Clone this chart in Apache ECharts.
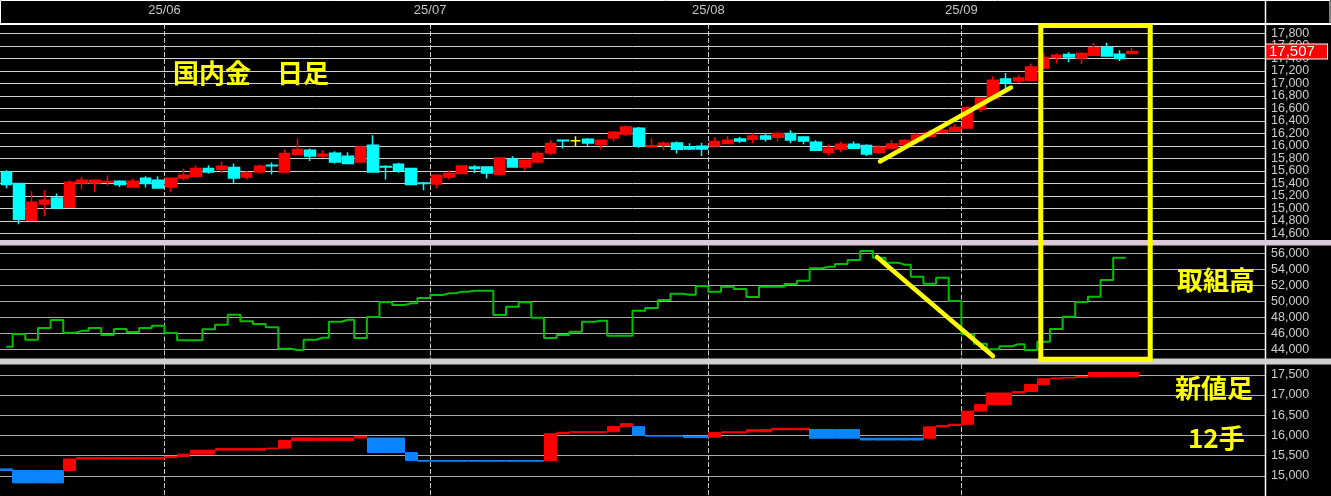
<!DOCTYPE html>
<html><head><meta charset="utf-8">
<script src="https://cdn.jsdelivr.net/npm/echarts@6/dist/echarts.min.js"></script>
<style>html,body{margin:0;padding:0;background:#000;}#c{width:1331px;height:496px;}</style>
</head><body><div id="c"></div>
<script>
// ---- data ----
const dates = [
 '2025/05/14','2025/05/15','2025/05/16','2025/05/19','2025/05/20','2025/05/21','2025/05/22','2025/05/23','2025/05/26','2025/05/27','2025/05/28','2025/05/29','2025/05/30',
 '2025/06/02','2025/06/03','2025/06/04','2025/06/05','2025/06/06','2025/06/09','2025/06/10','2025/06/11','2025/06/12','2025/06/13','2025/06/16','2025/06/17','2025/06/18','2025/06/19','2025/06/20','2025/06/23','2025/06/24','2025/06/25','2025/06/26','2025/06/27','2025/06/30',
 '2025/07/01','2025/07/02','2025/07/03','2025/07/04','2025/07/07','2025/07/08','2025/07/09','2025/07/10','2025/07/11','2025/07/14','2025/07/15','2025/07/16','2025/07/17','2025/07/18','2025/07/22','2025/07/23','2025/07/24','2025/07/25','2025/07/28','2025/07/29','2025/07/30','2025/07/31',
 '2025/08/01','2025/08/04','2025/08/05','2025/08/06','2025/08/07','2025/08/08','2025/08/12','2025/08/13','2025/08/14','2025/08/15','2025/08/18','2025/08/19','2025/08/20','2025/08/21','2025/08/22','2025/08/25','2025/08/26','2025/08/27','2025/08/28','2025/08/29',
 '2025/09/01','2025/09/02','2025/09/03','2025/09/04','2025/09/05','2025/09/08','2025/09/09','2025/09/10','2025/09/11','2025/09/12','2025/09/16','2025/09/17','2025/09/18','2025/09/19'
];
// daily candles (国内金 日足)
const open  = [15580,15395,14808,15069,15165,15016,15405,15405,15420,15432,15341,15480,15448,15341,15485,15512,15635,15624,15651,15501,15581,15690,15581,15864,15928,15837,15880,15832,15741,16008,15670,15704,15635,15405,15389,15501,15555,15661,15661,15544,15784,15661,15741,15885,16090,16080,16104,16024,16125,16189,16280,15985,16008,16045,15981,15992,15997,16035,16110,16104,16157,16136,16195,16141,16056,15896,15949,16024,16003,15896,15965,16024,16077,16152,16216,16232,16285,16584,16755,17069,17037,17048,17245,17411,17459,17405,17448,17571,17464,17475];
const close = [15380,14824,15096,15128,15005,15416,15448,15448,15430,15379,15432,15395,15325,15480,15528,15635,15581,15672,15485,15565,15672,15680,15875,15939,15837,15864,15741,15715,15981,15581,15660,15608,15379,15395,15528,15555,15677,15635,15565,15805,15661,15768,15875,16035,16080,16080,16045,16088,16216,16301,15997,16000,16040,15944,15949,15949,16067,16088,16077,16157,16110,16195,16093,16077,15928,15960,16024,15960,15869,15976,16029,16083,16168,16211,16248,16291,16611,16765,17048,17016,17085,17261,17411,17448,17421,17475,17571,17437,17395,17507];
const low   = [15320,14744,14800,14872,15000,15016,15299,15260,15363,15341,15331,15331,15315,15256,15448,15501,15555,15555,15405,15459,15555,15539,15581,15864,15757,15810,15715,15704,15741,15581,15459,15570,15379,15288,15315,15459,15555,15565,15475,15530,15651,15608,15715,15848,15955,15997,15997,15944,16072,16157,15968,15970,15928,15875,15933,15837,15997,16024,16048,16040,16070,16067,16040,16024,15917,15850,15896,15944,15837,15864,15949,15997,16040,16120,16200,16216,16285,16541,16755,16915,17005,17048,17225,17315,17336,17310,17448,17437,17352,17475];
const high  = [15610,15400,15272,15288,15235,15448,15501,15450,15528,15448,15475,15512,15512,15480,15635,15688,15688,15752,15715,15597,15704,15733,15944,16115,15955,15928,15912,15896,16000,16168,15690,15730,15640,15420,15528,15608,15690,15688,15672,15810,15832,15768,15912,16088,16090,16152,16125,16088,16237,16328,16301,16120,16067,16067,16040,16050,16136,16152,16144,16200,16200,16220,16248,16141,16088,16024,16067,16067,16024,16008,16093,16104,16200,16264,16275,16344,16630,16765,17112,17165,17128,17315,17485,17475,17495,17500,17650,17650,17528,17565];
// open interest (取組高)
const openInterest = [44330,45910,45200,46660,47660,46080,46330,46660,45790,46540,46160,46660,46950,46040,45130,45130,46500,47080,48330,47500,47160,46750,44080,43910,45200,45450,47450,47700,45410,48040,49910,49540,49750,50410,50790,51000,51200,51330,51330,48290,49330,49880,47950,45410,45790,46200,47450,47580,45700,45700,48830,49160,50160,50950,50830,51910,51200,51830,51540,50540,51830,51830,52160,52580,54130,54330,54660,55160,56290,55450,54830,54580,53080,52200,52950,50040,45880,44700,44000,44380,44630,43910,44950,46540,48080,49910,50580,52660,55450,null];
// new price bars (新値足 12手): current bar per day
const nvOpen  = [15170,15130,15130,15130,15130,15130,15416,15416,15416,15416,15416,15416,15416,15448,15480,15535,15535,15635,15635,15635,15635,15672,15685,15875,15875,15875,15875,15875,15935,15935,15935,15935,15575,15379,15379,15379,15379,15379,15379,15379,15379,15379,15379,15379,16040,16075,16075,16075,16090,16216,16216,15997,15997,15997,15980,15980,15955,16067,16067,16088,16088,16140,16140,16140,16145,16145,16145,16145,15930,15930,15930,15930,15930,15930,16211,16245,16275,16600,16760,16760,17048,17085,17258,17400,17420,17435,17455,17455,17455,17455];
const nvClose = [15130,14824,14824,14824,14824,15416,15448,15448,15448,15448,15448,15448,15448,15480,15535,15635,15635,15672,15672,15672,15672,15685,15875,15935,15935,15935,15935,15935,15975,15575,15575,15575,15379,15360,15360,15360,15360,15360,15360,15360,15360,15360,15360,16040,16075,16090,16090,16090,16216,16290,15997,15980,15980,15980,15945,15945,16067,16088,16088,16140,16140,16175,16175,16175,15930,15930,15930,15930,15885,15885,15885,15885,15885,16211,16245,16275,16600,16760,17048,17048,17085,17258,17400,17420,17435,17455,17555,17555,17555,17555];

// ---- helpers ----
const latin = "'Liberation Sans', Arial, sans-serif";
const cjk = "'Noto Sans CJK JP', sans-serif";
const fmt = v => String(Math.round(v)).replace(/\B(?=(\d{3})+(?!\d))/g, ',');
const isMonthStart = (i) => i > 0 && i < dates.length && dates[i].slice(5,7) !== dates[i-1].slice(5,7);
const monthSplit = {show:true, interval:(i)=>isMonthStart(i), lineStyle:{color:'#c8c8c8', type:[5,2], width:1}};

function xAxisFor(gi, showLabel){
  return {
    type:'category', gridIndex:gi, data:dates, min:0, max:99, boundaryGap:true, position:'top',
    axisLine:{show:false}, axisTick:{show:false},
    axisLabel: showLabel ? {
      show:true, interval:(i)=>isMonthStart(i), color:'#c4c4c4', fontSize:13, fontFamily:latin,
      margin:7, padding:[0,12.67,0,0], formatter:(v)=> v.slice(2,4)+'/'+v.slice(5,7)
    } : {show:false},
    splitLine: monthSplit
  };
}
function yAxisFor(gi, min, max, interval, lineColor){
  return {
    type:'value', gridIndex:gi, position:'right', min, max, interval,
    axisLine:{show:false}, axisTick:{show:false},
    axisLabel:{color:'#cccccc', fontSize:12.5, fontFamily:latin, margin:6, showMinLabel:false, showMaxLabel:false, formatter:fmt},
    splitLine:{show:true, showMinLine:false, showMaxLine:false, lineStyle:{color:lineColor, width:1}}
  };
}

const chart = echarts.init(document.getElementById('c'), null, {renderer:'canvas'});
const last = close.length - 1;
chart.setOption({
  backgroundColor:'#000',
  animation:false,
  grid:[
    {left:0, right:66, top:24, height:221.8},
    {left:0, right:66, top:245.5, height:119.8},
    {left:0, right:66, top:364, height:135}
  ],
  xAxis:[xAxisFor(0,true), xAxisFor(1,false), xAxisFor(2,false)],
  yAxis:[
    yAxisFor(0, 14400, 17949, 200, '#d2d2d2'),
    yAxisFor(1, 42000, 56975, 2000, '#ababab'),
    yAxisFor(2, 14500, 17766, 500, '#ababab')
  ],
  series:[
    {
      type:'candlestick', xAxisIndex:0, yAxisIndex:0, barWidth:11, clip:false,
      data: open.map((o,i)=>[o, close[i], low[i], high[i]]),
      itemStyle:{color:'#ff0000', color0:'#00ffff', borderColor:'#ff0000', borderColor0:'#00ffff', borderColorDoji:'#ffff00', borderWidth:1.5},
      markLine:{
        silent:true, symbol:'none', animation:false, z:10,
        data:[{yAxis: close[last]}],
        lineStyle:{color:'rgba(0,0,0,0)', width:1, type:'solid', opacity:1},
        label:{show:true, position:'end', distance:1, formatter:(p)=>fmt(p.value),
          color:'#ffffff', backgroundColor:'#ff0000', borderColor:'#ffffff', borderWidth:1,
          fontSize:15, fontFamily:latin, lineHeight:14, padding:[0,2,0,3], width:56, align:'left', opacity:1}
      }
    },
    {
      type:'line', xAxisIndex:1, yAxisIndex:1, data:openInterest, step:'middle',
      symbol:'none', showSymbol:false, connectNulls:false,
      lineStyle:{color:'#00c000', width:2}, itemStyle:{color:'#00c000'}
    },
    {
      type:'candlestick', xAxisIndex:2, yAxisIndex:2, barWidth:'100%',
      data: nvOpen.map((o,i)=>[o, nvClose[i], Math.min(o,nvClose[i]), Math.max(o,nvClose[i])]),
      itemStyle:{color:'#ff0000', color0:'#0a84ff', borderColor:'#ff0000', borderColor0:'#0a84ff', borderWidth:1}
    }
  ],
  graphic:[
    {type:'rect', shape:{x:0.5, y:0.5, width:1329.5, height:23}, style:{fill:null, stroke:'#ffffff', lineWidth:1}, z:99},
    {type:'line', shape:{x1:0, y1:24, x2:1331, y2:24}, style:{stroke:'#ffffff', lineWidth:2}, z:99},
    {type:'line', shape:{x1:1265.5, y1:0, x2:1265.5, y2:496}, style:{stroke:'#ffffff', lineWidth:1.5}, z:99},
    {type:'rect', shape:{x:0, y:240, width:1331, height:5.5}, style:{fill:'#dccadb'}, z:100},
    {type:'rect', shape:{x:0, y:358.5, width:1331, height:6}, style:{fill:'#d2cfd1'}, z:100},
    {type:'line', shape:{x1:880, y1:161.5, x2:1011, y2:87.5}, style:{stroke:'#ffff00', lineWidth:4.5, lineCap:'round'}, z:110},
    {type:'line', shape:{x1:877, y1:257, x2:993, y2:356}, style:{stroke:'#ffff00', lineWidth:4.5, lineCap:'round'}, z:110},
    {type:'rect', shape:{x:1040.8, y:25.5, width:109.4, height:333.7}, style:{fill:null, stroke:'#ffff00', lineWidth:5}, z:110},
    {type:'text', x:173, y:60, style:{text:'国内金　日足', fill:'#ffff00', font:'bold 26px '+cjk, verticalAlign:'top'}, z:110},
    {type:'text', x:1177, y:267, style:{text:'取組高', fill:'#ffff00', font:'bold 26px '+cjk, verticalAlign:'top'}, z:110},
    {type:'text', x:1175, y:375, style:{text:'新値足', fill:'#ffff00', font:'bold 26px '+cjk, verticalAlign:'top'}, z:110},
    {type:'text', x:1188, y:425, style:{text:'12手', fill:'#ffff00', font:'bold 26px '+cjk, verticalAlign:'top'}, z:110}
  ]
});
</script></body></html>
